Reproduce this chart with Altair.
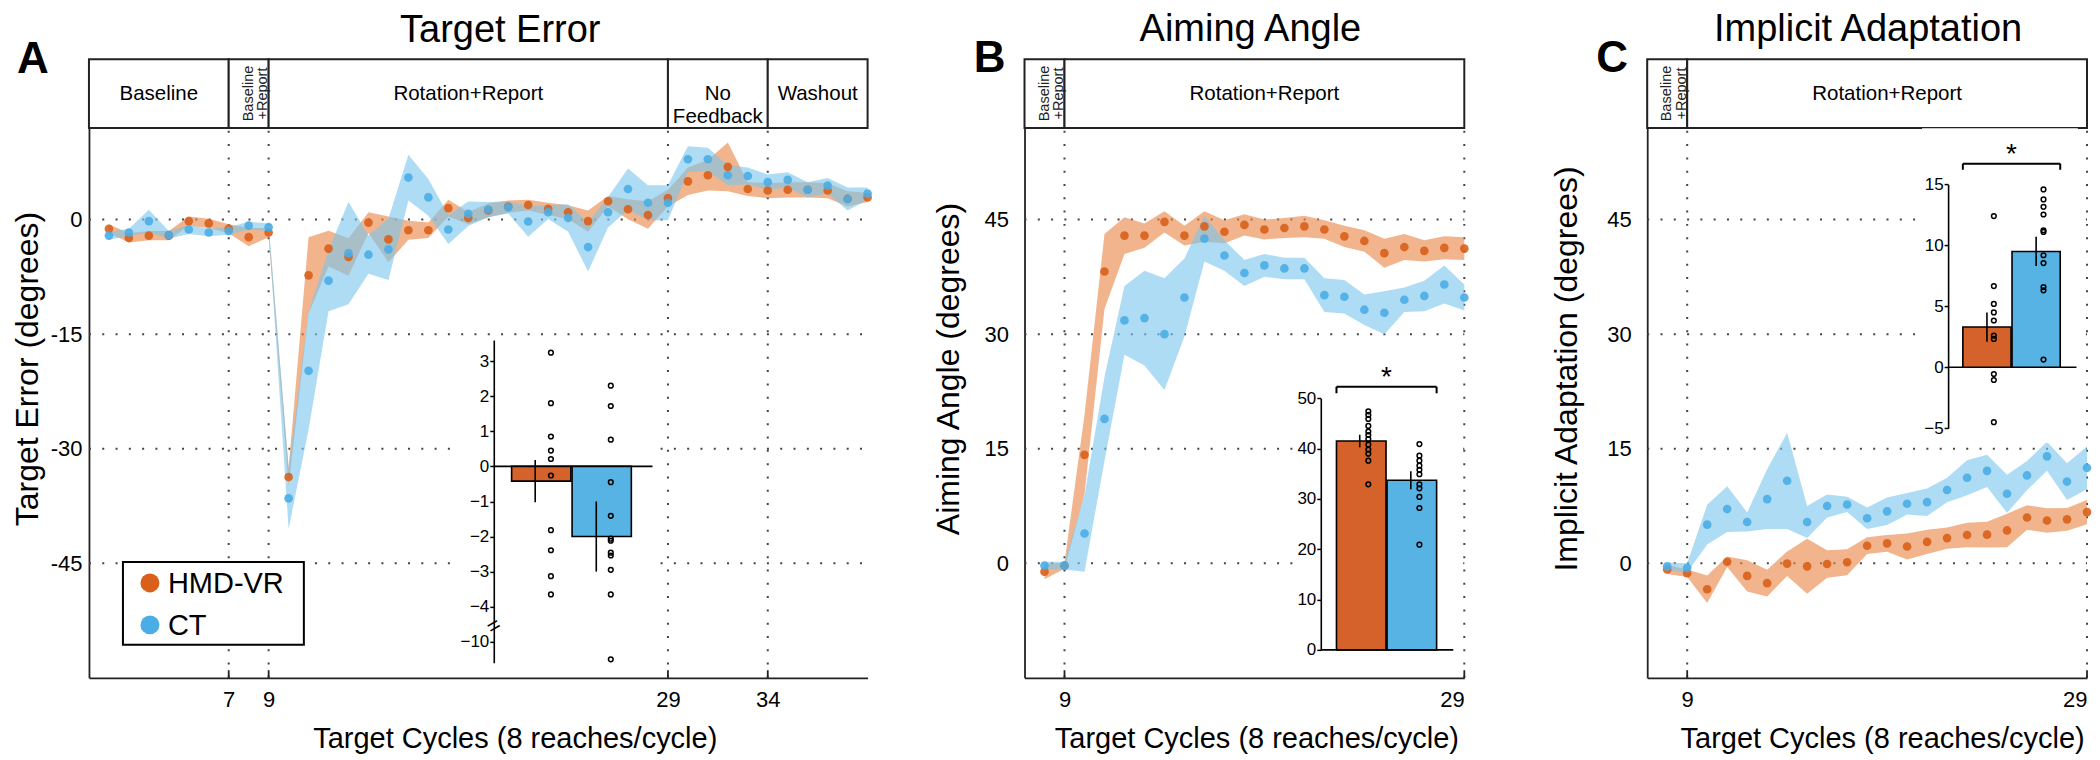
import altair as alt
import pandas as pd

FONT = "Liberation Sans"
GROUPS = ["HMD-VR", "CT"]
DOT_COLORS = ["#D95F1B", "#4AADE6"]
BAND_COLORS = ["#EA8646", "#7CC6EE"]
BAR_COLORS = ["#D4622A", "#58B3E5"]

# ---------------- Panel A : Target Error ----------------
a_cycles = list(range(1, 40))
a_hmd_mean = [-1.2, -2.4, -2.1, -2.1, -0.2, -0.5, -1.2, -2.3, -1.7, -33.7,
              -7.3, -3.8, -4.9, -0.4, -2.6, -1.4, -1.4, 1.5, 0.2, 1.2,
              1.7, 1.9, 1.4, 0.96, -0.2, 2.4, 1.35, 0.6, 2.8, 5.0,
              5.8, 6.9, 4.0, 3.8, 3.9, 3.9, 3.8, 2.7, 2.9]
a_hmd_se = [0.6, 0.6, 0.6, 0.6, 0.6, 0.6, 0.6, 1.2, 0.6, 1.2,
            5.0, 2.35, 2.45, 1.35, 3.0, 1.25, 1.0, 1.1, 0.8, 0.9,
            0.8, 0.7, 0.8, 0.9, 1.4, 0.7, 1.3, 1.8, 1.1, 1.8,
            2.0, 3.2, 0.9, 1.0, 1.0, 1.0, 1.0, 1.0, 0.6]
a_ct_mean = [-2.1, -1.7, -0.2, -2.0, -1.3, -1.7, -1.5, -0.8, -1.0, -36.5,
             -19.8, -8.0, -4.4, -4.6, -3.9, 5.5, 2.9, -1.3, 0.75, 1.3,
             1.6, -0.26, 0.96, 0.2, -3.6, 0.96, 4.0, 2.2, 2.2, 7.9,
             7.9, 5.8, 5.7, 4.9, 5.2, 3.9, 4.45, 2.7, 3.4]
a_ct_se = [0.5, 0.5, 1.5, 0.5, 0.6, 0.5, 0.5, 0.5, 0.5, 4.0,
           7.7, 4.0, 6.7, 2.5, 4.0, 3.0, 2.4, 1.9, 1.6, 1.0,
           0.8, 2.0, 0.9, 1.8, 3.2, 2.0, 2.7, 2.3, 2.3, 1.7,
           1.5, 1.3, 1.1, 1.0, 1.0, 1.0, 1.0, 1.5, 0.8]
a_phase_start = [0, 7, 9, 29, 34]
a_phase_end = [7, 9, 29, 34, 39]
a_phase_label = ["Baseline", "Baseline\n+Report", "Rotation+Report", "No\nFeedback", "Washout"]
a_phase_vertical = [False, True, False, False, False]
a_xticks = [7, 9, 29, 34]
a_yticks = [-45, -30, -15, 0]
a_inset_hmd = [3.24, 1.8, 0.85, 0.45, 0.21, -0.26, -1.82, -2.39, -3.13, -3.65]
a_inset_ct = [2.3, 1.72, 0.76, -0.45, -1.41, -2.06, -2.12, -2.46, -2.54, -2.95, -3.65, -10.5]
a_inset_mean = [-0.42, -2.0]
a_inset_se = [0.6, 1.0]
a_inset_ticks = [-5, -4, -3, -2, -1, 0, 1, 2, 3]

# ---------------- Panel B : Aiming Angle ----------------
b_cycles = list(range(8, 30))
b_hmd_mean = [-1.1, -0.3, 14.2, 38.2, 42.9, 42.9, 44.7, 42.9, 44.1, 43.4, 44.3,
              43.7, 43.9, 44.1, 43.7, 42.8, 42.2, 40.6, 41.4, 40.9, 41.3, 41.2]
b_hmd_se = [1.0, 0.4, 5.2, 4.9, 2.4, 1.6, 1.4, 1.3, 2.0, 1.5, 1.4,
            1.3, 1.3, 1.4, 1.2, 1.4, 1.4, 1.9, 1.7, 1.4, 1.5, 1.5]
b_ct_mean = [-0.3, -0.3, 3.9, 18.9, 31.8, 32.1, 30.0, 34.8, 42.5, 40.3, 38.0,
             39.0, 38.6, 38.6, 35.1, 34.9, 33.2, 32.8, 34.5, 35.0, 36.5, 34.8]
b_ct_se = [0.5, 0.5, 5.0, 5.5, 4.5, 6.2, 7.3, 5.1, 3.0, 2.0, 1.7,
           1.5, 1.4, 1.4, 2.2, 2.2, 2.0, 2.8, 1.6, 2.0, 2.5, 1.7]
b_inset_hmd = [47.4, 46.7, 45.9, 44.5, 43.4, 42.7, 41.9, 40.8, 39.8, 39.0, 37.6, 32.9]
b_inset_ct = [40.9, 38.6, 37.6, 36.6, 35.8, 34.9, 32.9, 32.1, 30.4, 28.2, 20.9]
b_inset_mean = [41.5, 33.7]
b_inset_se = [1.25, 1.8]
b_inset_ticks = [0, 10, 20, 30, 40, 50]

# ---------------- Panel C : Implicit Adaptation ----------------
c_cycles = list(range(8, 30))
c_hmd_mean = [-0.8, -1.3, -3.4, 0.2, -1.65, -2.6, -0.05, -0.4, -0.1, 0.13, 2.3,
              2.6, 2.2, 2.8, 3.3, 3.7, 3.75, 4.3, 6.0, 5.6, 5.75, 6.7]
c_hmd_se = [0.6, 0.5, 1.8, 0.7, 2.05, 1.75, 1.6, 3.6, 1.8, 1.7, 1.1,
            1.1, 1.7, 1.6, 1.4, 1.6, 1.7, 2.2, 1.6, 1.6, 1.5, 1.6]
c_ct_mean = [-0.4, -0.6, 5.06, 7.1, 5.4, 8.4, 10.8, 5.4, 7.5, 7.7, 5.9,
             6.8, 7.8, 8.0, 9.6, 11.2, 12.1, 9.1, 11.5, 14.0, 10.7, 12.5]
c_ct_se = [0.5, 0.6, 2.6, 3.0, 1.25, 3.9, 6.3, 2.1, 1.5, 1.0, 1.4,
           1.8, 1.4, 1.8, 1.6, 2.3, 2.1, 2.5, 1.9, 1.9, 2.4, 2.8]
c_inset_hmd = [12.4, 6.66, 5.2, 4.5, 3.84, 2.6, 2.33, -0.55, -1.04, -4.5]
c_inset_ct = [14.59, 13.77, 13.16, 12.53, 11.24, 11.1, 9.19, 8.55, 6.58, 6.31, 0.63]
c_inset_mean = [3.3, 9.5]
c_inset_se = [1.2, 1.2]
c_inset_ticks = [-5, 0, 5, 10, 15]

bc_phase_start = [7, 9]
bc_phase_end = [9, 29]
bc_phase_label = ["Baseline\n+Report", "Rotation+Report"]
bc_phase_vertical = [True, False]
bc_xticks = [9, 29]
bc_yticks = [0, 15, 30, 45]

MINUS_EXPR = "datum.value < 0 ? '\u2212' + abs(datum.value) : '' + datum.value"

COLOR_SCALE = alt.Scale(domain=GROUPS, range=DOT_COLORS)


def legend_layers(box, first_y, step, sym_x, text_x):
    """Legend box drawn in panel pixel space (layout only)."""
    layers = [alt.Chart(pd.DataFrame({"g": ["legend"]})).mark_rect(
        fill="white", stroke="black", strokeWidth=2).encode(
        x=alt.value(box[0]), x2=alt.value(box[1]), y=alt.value(box[2]), y2=alt.value(box[3]))]
    for i, g in enumerate(GROUPS):
        one = pd.DataFrame({"group": [g]})
        yy = first_y + i * step
        layers.append(alt.Chart(one).mark_circle(size=360, opacity=1).encode(
            x=alt.value(sym_x), y=alt.value(yy),
            color=alt.Color("group:N", scale=COLOR_SCALE, legend=None)))
        layers.append(alt.Chart(one).mark_text(
            fontSize=29, align="left", baseline="middle", color="black").encode(
            x=alt.value(text_x), y=alt.value(yy + 1), text="group:N"))
    return layers


def build_panel(cycles, hmd_mean, hmd_se, ct_mean, ct_se, xdom, ydom, hdr,
                xticks, yticks, phases, ytitle, title, letter, geo, ins, with_legend=False):
    rows = []
    for g, means, ses in ((GROUPS[0], hmd_mean, hmd_se), (GROUPS[1], ct_mean, ct_se)):
        for c, m, s in zip(cycles, means, ses):
            rows.append({"cycle": c, "group": g, "mean": m, "lo": m - s, "hi": m + s})
    df = pd.DataFrame(rows)

    xs = alt.Scale(domain=xdom, range=[0, geo["xr"]], nice=False, zero=False)
    ys = alt.Scale(domain=[ydom[0], hdr[1]], nice=False, zero=False)
    xaxis = alt.Axis(values=xticks, grid=False, ticks=False, labelFontSize=22,
                     labelPadding=12, labelColor="black", domainColor="#222",
                     domainWidth=1.8, title="Target Cycles (8 reaches/cycle)",
                     titleFontSize=29, titleFontWeight="normal", titleColor="black",
                     titlePadding=14, titleX=geo["xtitle_x"],
                     labelExpr="'' + datum.value")
    yaxis = alt.Axis(values=yticks, grid=False, ticks=False, orient="left",
                     labelFontSize=22, labelPadding=geo["ylp"], labelColor="black",
                     domainColor="#222", domainWidth=1.8, title=ytitle,
                     titleFontSize=32, titleFontWeight="normal", titleColor="black",
                     titlePadding=geo["ytp"], labelExpr="'' + datum.value")

    def X(f):
        return alt.X(f, type="quantitative", scale=xs, axis=xaxis)

    def Y(f):
        return alt.Y(f, type="quantitative", scale=ys, axis=yaxis)

    dotted = dict(color="#444", strokeWidth=2, strokeDash=[2, 11.3])
    grid_h = alt.Chart(pd.DataFrame({"y": yticks, "x0": xdom[0], "x1": xdom[1]})).mark_rule(
        **dotted).encode(x=X("x0"), x2=alt.X2("x1"), y=Y("y"))
    grid_v = alt.Chart(pd.DataFrame({"x": xticks, "y0": ydom[0], "y1": hdr[0]})).mark_rule(
        **dotted).encode(x=X("x"), y=Y("y0"), y2=alt.Y2("y1"))

    bands = []
    for g, col in zip(GROUPS, BAND_COLORS):
        bands.append(alt.Chart(df).transform_filter(alt.datum.group == g).mark_area(
            color=col, opacity=0.62).encode(x=X("cycle"), y=Y("lo"), y2=alt.Y2("hi")))
    pts = alt.Chart(df).mark_circle(size=75, opacity=0.9).encode(
        x=X("cycle"), y=Y("mean"),
        color=alt.Color("group:N", scale=COLOR_SCALE, legend=None))

    starts, ends, labels, vert = phases
    hdf = pd.DataFrame({"start": starts, "end": ends, "label": labels, "vert": vert})
    hdf["mid"] = (hdf["start"] + hdf["end"]) / 2
    hdf["y0"] = hdr[0]
    hdf["y1"] = hdr[1]
    hdf["ym"] = (hdr[0] + hdr[1]) / 2
    hrect = alt.Chart(hdf).mark_rect(fill="white", stroke="#222", strokeWidth=2).encode(
        x=X("start"), x2=alt.X2("end"), y=Y("y0"), y2=alt.Y2("y1"))
    htext = alt.Chart(hdf[~hdf["vert"]]).mark_text(
        fontSize=20.5, lineBreak="\n", lineHeight=23, color="black").encode(
        x=X("mid"), y=Y("ym"), text="label:N")
    vtext = alt.Chart(hdf[hdf["vert"]]).mark_text(
        fontSize=14.5, lineBreak="\n", lineHeight=14.5, angle=270, color="#222").encode(
        x=X("mid"), y=Y("ym"), text="label:N")

    tdf = pd.DataFrame({"x": xticks, "y0": ydom[0], "y1": ydom[0] + 1.0})
    xtk = alt.Chart(tdf).mark_rule(color="#222", strokeWidth=1.8).encode(
        x=X("x"), y=Y("y0"), y2=alt.Y2("y1"))

    let = alt.Chart(pd.DataFrame({"t": [letter]})).mark_text(
        fontSize=44, fontWeight="bold", align="center", baseline="alphabetic",
        color="black").encode(text="t:N", x=alt.value(geo["letter"][0]),
                              y=alt.value(geo["letter"][1]))

    main_layers = [grid_h, grid_v, *bands, pts, hrect, htext, vtext, xtk, let]
    if with_legend:
        main_layers += legend_layers((34, 215, 503, 586), 524, 42, 61, 79)
    main = alt.layer(*main_layers)

    # ---------------- inset ----------------
    x0p, x3p = ins["xr"]
    axis_px = x0p + ins["axis_u"] * (x3p - x0p) / 3.0
    ixs = alt.Scale(domain=[0, 3], range=[x0p, x3p], nice=False, zero=False)
    iys = alt.Scale(domain=ins["ydom"], range=ins["yr"], nice=False, zero=False)
    iaxis = alt.Axis(orient="left", offset=-axis_px, values=ins["ticks"],
                     labelExpr=ins["label_expr"], grid=False, title=None,
                     labelFontSize=17, tickSize=4, tickColor="black", tickWidth=1.5,
                     domainColor="black", domainWidth=1.6, labelPadding=1,
                     labelColor="black", labelFont=FONT, zindex=3)

    def IX(f):
        return alt.X(f, type="quantitative", scale=ixs, axis=None)

    def IY(f):
        return alt.Y(f, type="quantitative", scale=iys, axis=iaxis)

    bg = alt.Chart(pd.DataFrame({"x0": [ins["bg_x"][0]], "x1": [ins["bg_x"][1]],
                                 "y0": [ins["bg_y"][0]], "y1": [ins["bg_y"][1]]})).mark_rect(
        fill="white").encode(x=IX("x0"), x2=alt.X2("x1"), y=IY("y0"), y2=alt.Y2("y1"))

    centers = [1, 2]
    bdf = pd.DataFrame({"group": GROUPS, "fill": BAR_COLORS, "mean": ins["mean"],
                        "zero": 0.0, "se": ins["se"]})
    bdf["x0"] = [c - 0.49 for c in centers]
    bdf["x1"] = [c + 0.49 for c in centers]
    bdf["ex"] = [c + d for c, d in zip(centers, ins["err_dx"])]
    bdf["lo"] = bdf["mean"] - bdf["se"]
    bdf["hi"] = bdf["mean"] + bdf["se"]
    bars = alt.Chart(bdf).mark_rect(stroke="black", strokeWidth=1.6).encode(
        x=IX("x0"), x2=alt.X2("x1"), y=IY("zero"), y2=alt.Y2("mean"),
        fill=alt.Fill("fill:N", scale=None))
    errs = alt.Chart(bdf).mark_rule(color="black", strokeWidth=1.6).encode(
        x=IX("ex"), y=IY("lo"), y2=alt.Y2("hi"))
    zline = alt.Chart(pd.DataFrame({"x0": [ins["axis_u"]], "x1": [ins["zero_end"]],
                                    "y": [0.0]})).mark_rule(color="black", strokeWidth=1.6).encode(
        x=IX("x0"), x2=alt.X2("x1"), y=IY("y"))

    drows = []
    for c, d, vals in zip(centers, ins["dot_dx"], (ins["hmd"], ins["ct"])):
        for v in vals:
            drows.append({"x": c + d, "v": v})
    dots = alt.Chart(pd.DataFrame(drows))
    if ins.get("break"):
        lim, shift = ins["break"]
        dots = dots.transform_calculate(d=f"datum.v < {lim} ? datum.v + {shift} : datum.v")
    else:
        dots = dots.transform_calculate(d="datum.v")
    dots = dots.mark_point(shape="circle", filled=False, color="black", strokeWidth=1.5,
                           size=22, opacity=1).encode(x=IX("x"), y=IY("d:Q"))

    ilayers = [bg, zline, bars, errs, dots]
    if ins.get("bracket"):
        by, bt = ins["bracket"]
        brdf = pd.DataFrame({"x0": [0.51], "x1": [2.49], "y": [by]})
        br_h = alt.Chart(brdf).mark_rule(color="black", strokeWidth=2).encode(
            x=IX("x0"), x2=alt.X2("x1"), y=IY("y"))
        brv = pd.DataFrame({"x": [0.51, 2.49], "y0": [by, by], "y1": [bt, bt]})
        br_v = alt.Chart(brv).mark_rule(color="black", strokeWidth=2).encode(
            x=IX("x"), y=IY("y0"), y2=alt.Y2("y1"))
        star = alt.Chart(pd.DataFrame({"x": [1.5], "y": [by], "t": ["*"]})).mark_text(
            fontSize=28, baseline="alphabetic", dy=-1, color="black").encode(
            x=IX("x"), y=IY("y"), text="t:N")
        ilayers += [br_h, br_v, star]
    if ins.get("break_mark") is not None:
        bm = alt.Chart(pd.DataFrame({"x": [ins["axis_u"]], "y": [ins["break_mark"]],
                                     "t": ["="]})).mark_text(
            fontSize=22, angle=330, color="black").encode(
            x=IX("x"), y=IY("y"), text="t:N")
        ilayers.append(bm)

    inset = alt.layer(*ilayers)

    return alt.layer(main, inset).resolve_scale(x="independent", y="independent").properties(
        width=geo["width"], height=619,
        title=alt.TitleParams(title, fontSize=38, fontWeight="normal", font=FONT,
                              offset=-12, dx=geo["title_dx"], anchor="middle",
                              color="black"))


pa = build_panel(
    a_cycles, a_hmd_mean, a_hmd_se, a_ct_mean, a_ct_se, [0, 39], [-60, 12], [12, 21],
    a_xticks, a_yticks, (a_phase_start, a_phase_end, a_phase_label, a_phase_vertical),
    "Target Error (degrees)", "Target Error", "A",
    dict(width=779, xr=779, ylp=7, ytp=6, title_dx=22, xtitle_x=426, letter=(-56, 14)),
    {"xr": [392, 573.5], "ydom": [-5.6, 3.6], "yr": [604, 281], "axis_u": 0.215,
     "zero_end": 2.84, "ticks": a_inset_ticks,
     "label_expr": "datum.value == -5 ? '\u221210' : (" + MINUS_EXPR + ")",
     "mean": a_inset_mean, "se": a_inset_se, "err_dx": [-0.1, -0.09], "dot_dx": [0.16, 0.15],
     "hmd": a_inset_hmd, "ct": a_inset_ct, "bg_x": [-0.38, 2.88], "bg_y": [-5.6, 3.6],
     "break": (-4.5, 5), "break_mark": -4.55},
    with_legend=True)

pb = build_panel(
    b_cycles, b_hmd_mean, b_hmd_se, b_ct_mean, b_ct_se, [7, 29], [-15, 57], [57, 66],
    bc_xticks, bc_yticks, (bc_phase_start, bc_phase_end, bc_phase_label, bc_phase_vertical),
    "Aiming Angle (degrees)", "Aiming Angle", "B",
    dict(width=466, xr=440, ylp=16, ytp=19, title_dx=-7, xtitle_x=232, letter=(-35, 13)),
    {"xr": [286.3, 438.1], "ydom": [0, 50], "yr": [591, 339.3], "axis_u": 0.2,
     "zero_end": 2.82, "ticks": b_inset_ticks, "label_expr": "'' + datum.value",
     "mean": b_inset_mean, "se": b_inset_se, "err_dx": [-0.03, -0.02], "dot_dx": [0.14, 0.15],
     "hmd": b_inset_hmd, "ct": b_inset_ct, "bg_x": [-0.32, 2.94], "bg_y": [-2.5, 57.5],
     "bracket": (52.3, 51.0)})

pc = build_panel(
    c_cycles, c_hmd_mean, c_hmd_se, c_ct_mean, c_ct_se, [7, 29], [-15, 57], [57, 66],
    bc_xticks, bc_yticks, (bc_phase_start, bc_phase_end, bc_phase_label, bc_phase_vertical),
    "Implicit Adaptation (degrees)", "Implicit Adaptation", "C",
    dict(width=440, xr=440, ylp=16, ytp=23, title_dx=1, xtitle_x=235, letter=(-35, 13)),
    {"xr": [290.7, 438.3], "ydom": [-5, 15], "yr": [369.3, 125.3], "axis_u": 0.21,
     "zero_end": 2.82, "ticks": c_inset_ticks, "label_expr": MINUS_EXPR,
     "mean": c_inset_mean, "se": c_inset_se, "err_dx": [0.0, 0.0], "dot_dx": [0.14, 0.15],
     "hmd": c_inset_hmd, "ct": c_inset_ct, "bg_x": [-0.32, 2.85], "bg_y": [-6.2, 19.6],
     "bracket": (16.7, 16.2)})

chart = alt.hconcat(pa, pb, pc, spacing=157, bounds="flush").properties(
    padding={"left": 3, "top": 3, "right": 0, "bottom": 0}
).configure(font=FONT).configure_view(stroke=None)

chart.save("out.html", embed_options={"renderer": "svg", "actions": False})
